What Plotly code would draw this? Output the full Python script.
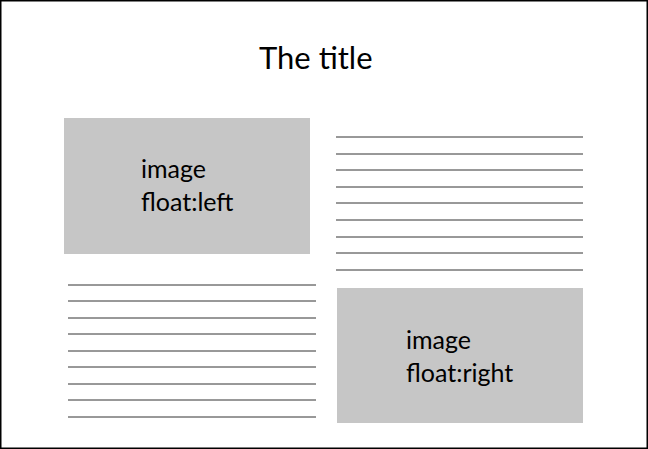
import plotly.graph_objects as go

W, H = 648, 449

title = "The title"

# gray image boxes: x0, x1, y0, y1 and their labels
box_x0 = [64, 337]
box_x1 = [310, 583]
box_y0 = [118, 288]
box_y1 = [254, 423]
box_labels = [["image", "float:left"], ["image", "float:right"]]
label_x = [139, 404]
label_y = [[168, 201], [339, 372]]

# text lines beside the images
right_lines_x = [336, 583]
right_lines_y = [137, 154, 170, 187, 203, 220, 237, 253, 270]
left_lines_x = [68, 316]
left_lines_y = [285, 301, 318, 334, 351, 367, 384, 400, 417]

fig = go.Figure()

for x0, x1, y0, y1 in zip(box_x0, box_x1, box_y0, box_y1):
    fig.add_shape(type="rect", x0=x0, x1=x1, y0=y0, y1=y1,
                  fillcolor="#c6c6c6", line=dict(width=0), layer="below")

for lx, ys in ((right_lines_x, right_lines_y), (left_lines_x, left_lines_y)):
    xs, yy = [], []
    for y in ys:
        xs += [lx[0], lx[1], None]
        yy += [y, y, None]
    fig.add_trace(go.Scatter(x=xs, y=yy, mode="lines",
                             line=dict(color="#333333", width=1),
                             hoverinfo="skip", showlegend=False))

for lab, x, ys in zip(box_labels, label_x, label_y):
    for t, y in zip(lab, ys):
        fig.add_annotation(x=x, y=y, text=t, showarrow=False, xanchor="left",
                           font=dict(family="Lato", size=25, color="black"))

fig.add_annotation(x=316, y=57, text=title, showarrow=False,
                   font=dict(family="Lato", size=31, color="black"))

# outer frame
fig.add_shape(type="rect", xref="paper", yref="paper", x0=0, x1=1, y0=0, y1=1,
              line=dict(color="black", width=3))

fig.update_xaxes(range=[0, W], visible=False, fixedrange=True)
fig.update_yaxes(range=[H, 0], visible=False, fixedrange=True)
fig.update_layout(width=W, height=H, margin=dict(l=0, r=0, t=0, b=0),
                  paper_bgcolor="white", plot_bgcolor="white")

fig.write_html("out.html", config={"displayModeBar": False},
               post_script="document.body.style.margin='0';"
                           "document.body.style.overflow='hidden';")
